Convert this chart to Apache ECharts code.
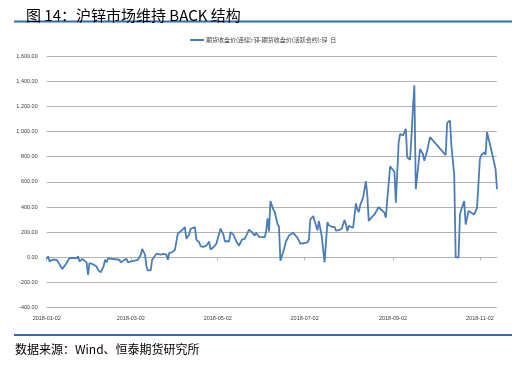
<!DOCTYPE html>
<html><head><meta charset="utf-8">
<script src="https://cdn.jsdelivr.net/npm/echarts@6/dist/echarts.min.js"></script>
<style>html,body{margin:0;padding:0;background:#fff}#c{width:512px;height:368px}</style>
</head><body><div id="c"></div>
<script>
const titleText = '图 14：沪锌市场维持 BACK 结构';
const sourceText = '数据来源：Wind、恒泰期货研究所';
const seriesName = '期货收盘价(连续):锌-期货收盘价(活跃合约):锌  日';
const startDate = '2018-01-02';
const endDate = '2018-11-14';
const xTickLabels = ['2018-01-02','2018-03-02','2018-05-02','2018-07-02','2018-09-02','2018-11-02'];
const yTicks = [-400,-200,0,200,400,600,800,1000,1200,1400,1600];

const pointDates = [
'01-02','01-03','01-04','01-06','01-09','01-10','01-13','01-14','01-16','01-18','01-19','01-21','01-23','01-24','01-25','01-27','01-28','01-30','01-31',
'02-01','02-04','02-06','02-07','02-08','02-09','02-10','02-11','02-12','02-13','02-14','02-22','02-23','02-25','02-27','02-28',
'03-02','03-04','03-07','03-09','03-10','03-12','03-13','03-14','03-16','03-17','03-18','03-20','03-23','03-25','03-27','03-28','03-29','03-31',
'04-02','04-04','04-07','04-09','04-10','04-12','04-13','04-16','04-17','04-19','04-20','04-22','04-24','04-26','04-27','04-29',
'05-01','05-02','05-04','05-06','05-07','05-10','05-11','05-13','05-15','05-17','05-19','05-21','05-22','05-24','05-26','05-28','05-29','05-31',
'06-02','06-04','06-05','06-06','06-07','06-08','06-10','06-11','06-13','06-14','06-15','06-17','06-19','06-21','06-24','06-25','06-27','06-29',
'07-01','07-02','07-04','07-05','07-06','07-08','07-09','07-11','07-12','07-13','07-14','07-15','07-16','07-18','07-19','07-21','07-23','07-24','07-26','07-28','07-30','07-31',
'08-01','08-02','08-03','08-05','08-06','08-07','08-08','08-09','08-10','08-12','08-14','08-15','08-16','08-18','08-20','08-23','08-25','08-27','08-28','08-29','08-31',
'09-01','09-03','09-04','09-06','09-07','09-09','09-10','09-11','09-12','09-14','09-15','09-16','09-17','09-18','09-19','09-21','09-23','09-24','09-26','09-28',
'10-09','10-10','10-12','10-13','10-15','10-16','10-18','10-19','10-20','10-22','10-23','10-25','10-26','10-29','10-31',
'11-01','11-02','11-03','11-05','11-06','11-07','11-09','11-11','11-13','11-14'
];
const spread = [
-11,8,-32,-19,-19,-24,-93,-77,-45,-5,-19,-5,-8,8,-32,-13,-24,-40,-139,
-45,-58,-72,-99,-85,-120,-112,-67,-19,-40,-8,-19,-40,-24,-11,-40,
-32,-27,-19,21,67,21,-72,-104,-104,-19,-5,29,21,27,21,-19,35,40,
61,189,216,240,147,181,227,240,141,120,88,83,93,125,61,80,
107,110,229,181,128,128,200,181,128,93,141,147,147,221,200,173,195,163,
160,160,208,310,205,447,381,363,263,245,-26,45,128,173,195,190,155,109,
112,109,120,141,301,328,336,215,290,305,168,61,-40,280,255,243,243,212,216,228,296,262,
208,250,261,235,225,429,380,360,415,475,605,493,290,318,341,400,375,355,315,460,723,
715,680,435,915,981,968,955,1021,795,776,968,1181,1368,541,555,861,821,768,848,955,
813,1069,1088,888,648,0,0,341,381,448,261,368,368,341,395,
380,781,813,835,815,995,901,803,701,541
];

// calendar-day categories
const categories = [];
(function(){
  let d = new Date(startDate + 'T00:00:00Z');
  const e = new Date(endDate + 'T00:00:00Z');
  while (d <= e) { categories.push(d.toISOString().slice(0,10)); d = new Date(d.getTime() + 86400000); }
})();
const seriesData = categories.map(() => null);
pointDates.forEach((md, i) => {
  const idx = categories.indexOf('2018-' + md);
  if (idx >= 0) seriesData[idx] = spread[i];
});
const isTick = (idx, val) => xTickLabels.indexOf(categories[idx]) >= 0;
const fmt = v => v.toLocaleString('en-US', {minimumFractionDigits: 2, maximumFractionDigits: 2});

const chart = echarts.init(document.getElementById('c'), null, {renderer: 'canvas'});
chart.setOption({
  animation: false,
  backgroundColor: '#fff',
  title: {
    text: titleText, left: 21, top: 3,
    textStyle: {fontSize: 15, fontWeight: 'normal', color: '#000', fontFamily: 'Noto Sans CJK SC'}
  },
  legend: {
    left: 185, top: 32, icon: 'rect', itemWidth: 14, itemHeight: 2, itemGap: 4,
    textStyle: {fontSize: 6, color: '#404040', fontFamily: 'Noto Sans CJK SC', padding: [0,0,0,-3]},
    data: [seriesName]
  },
  grid: {left: 46.7, right: 15, top: 56, bottom: 60.3, containLabel: false},
  xAxis: [{
    type: 'category', data: categories, boundaryGap: false,
    axisLine: {show: false, onZero: false},
    axisTick: {show: false},
    axisLabel: {interval: isTick, fontSize: 5.5, color: '#404040', margin: 8, fontFamily: 'Liberation Sans'},
    splitLine: {show: false}
  }, {
    type: 'category', data: categories, boundaryGap: false, position: 'bottom',
    axisLine: {show: true, onZero: true, lineStyle: {color: '#b3b3b3', width: 1}},
    axisTick: {show: true, interval: isTick, length: 3, lineStyle: {color: '#b3b3b3'}},
    axisLabel: {show: false},
    splitLine: {show: false}
  }],
  yAxis: {
    type: 'value', min: yTicks[0], max: yTicks[yTicks.length - 1], interval: 200,
    axisLine: {show: false}, axisTick: {show: false},
    axisLabel: {formatter: fmt, fontSize: 5.5, color: '#404040', margin: 9, fontFamily: 'Liberation Sans'},
    splitLine: {lineStyle: {color: '#b3b3b3', width: 1}}
  },
  series: [{
    name: seriesName, type: 'line', data: seriesData, connectNulls: true,
    showSymbol: false, symbol: 'none',
    lineStyle: {color: '#4a7ebb', width: 1.8},
    itemStyle: {color: '#4a7ebb'}
  }],
  graphic: [
    {type: 'rect', shape: {x: 14, y: 20.5, width: 498, height: 2}, style: {fill: '#2e6db5'}},
    {type: 'rect', shape: {x: 14, y: 334, width: 498, height: 2}, style: {fill: '#2e6db5'}},
    {type: 'text', x: 15, y: 349, style: {text: sourceText, fontSize: 12, fill: '#000', fontFamily: 'Noto Sans CJK SC', verticalAlign: 'middle'}}
  ]
});
</script></body></html>
